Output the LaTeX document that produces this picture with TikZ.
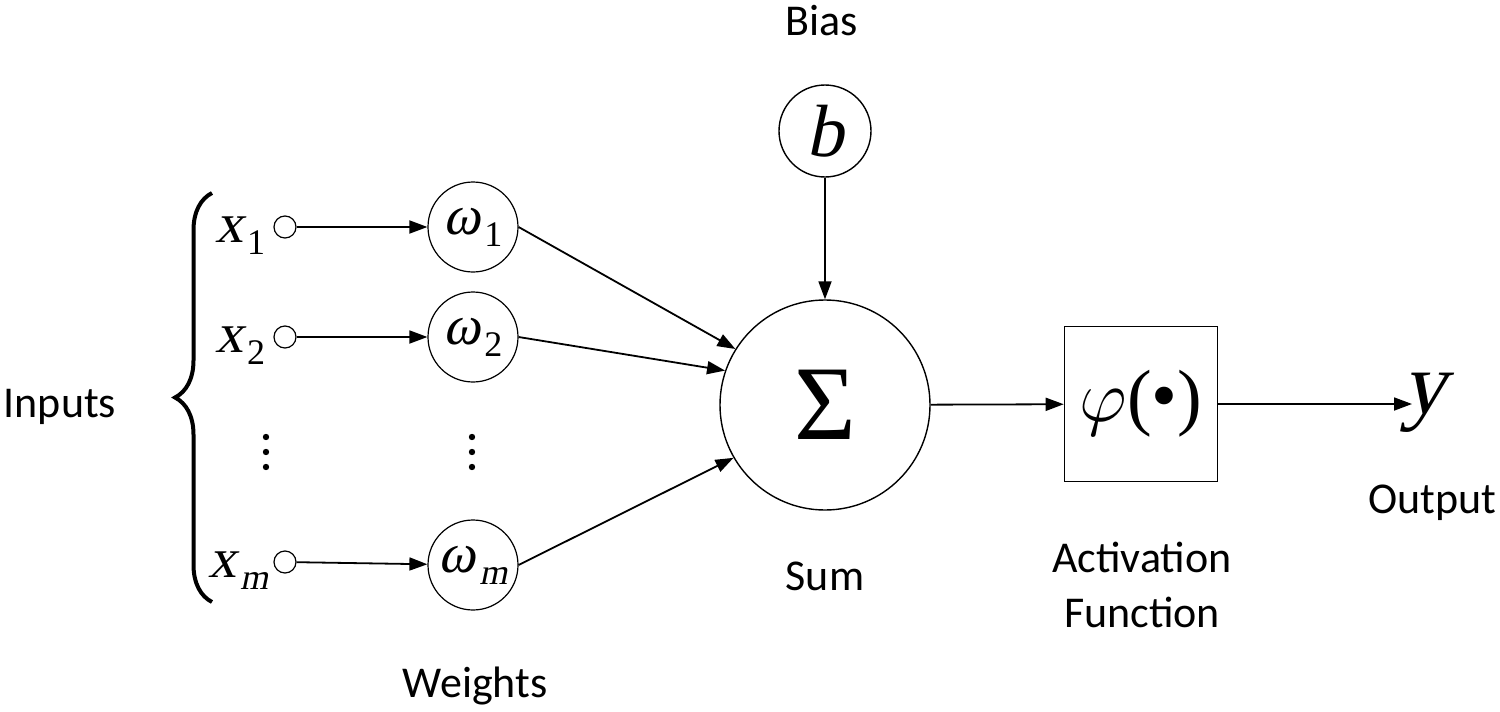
\documentclass[tikz,border=0pt]{standalone}
\usepackage{fix-cm}
\usepackage{fontspec}
\setmainfont{Liberation Serif}
\newfontfamily\slantserif{Liberation Serif}[FakeSlant=0.21]
\newfontfamily\captionfont{Carlito}
\usetikzlibrary{arrows.meta,decorations.pathreplacing}

% slanted symbol with a lowered subscript
\newcommand\symsub[3]{{\fontsize{#1}{#1}\selectfont\slantserif #2}\kern2pt\raisebox{-6pt}{\fontsize{18}{18}\selectfont #3}}

\begin{document}
\begin{tikzpicture}[x=0.5pt,y=-0.5pt,line width=0.9pt,
  conn/.style={-{Triangle[length=9pt,width=6.5pt]}},
  port/.style={circle,draw,line width=0.6pt,minimum size=11pt,inner sep=0pt},
  weight/.style={circle,draw,line width=0.6pt,minimum size=45pt,inner sep=0pt},
  label/.style={font=\captionfont\fontsize{22}{22}\selectfont,inner sep=0pt},
  sym/.style={inner sep=0pt}]
\useasboundingbox (0,0) rectangle (1500,712);

% inputs
\node[port] (x1c) at (285,227) {};
\node[port] (x2c) at (285,337) {};
\node[port] (xmc) at (285,562) {};
\node[sym,anchor=base east] (x1) at (266,242) {\symsub{28}{x}{1}};
\node[sym,anchor=base east] (x2) at (266,352) {\symsub{28}{x}{2}};
\node[sym,anchor=base east] (xm) at (269,577) {\symsub{28}{x}{\slantserif m}};

% weights
\node[weight] (w1) at (473,227) {\symsub{28}{ω}{1}};
\node[weight] (w2) at (473,337) {\symsub{28}{ω}{2}};
\node[weight] (wm) at (473,565) {\symsub{28}{ω}{\slantserif m}};

% vertical ellipses
\foreach \xx in {266,472}
  \foreach \yy in {437,452,467}
    \fill (\xx,\yy) circle (1.6pt);

% brace around the inputs
\draw[line width=2pt,decorate,decoration={brace,amplitude=18.5pt}] (212,602) -- (212,193);

% summing junction and bias
\node[circle,draw,line width=0.7pt,minimum size=105pt,inner sep=0pt] (sum) at (825,405)
  {\fontsize{53}{53}\selectfont Σ};
\node[circle,draw,line width=0.7pt,minimum size=46pt,inner sep=0pt] (b) at (825,131)
  {\fontsize{37}{37}\selectfont\slantserif b};

% activation block
\node[draw,line width=0.8pt,minimum width=76.5pt,minimum height=77.5pt,inner sep=0pt] (act) at (1141,404)
  {\fontsize{37}{37}\selectfont$\varphi$(\raisebox{0.5pt}{•})};

% output symbol
\node[sym,anchor=base west] (y) at (1402,413) {\fontsize{44}{44}\selectfont\slantserif y};
\coordinate (yin) at (1412,404);

% connectors
\draw[conn] (x1c) -- (w1);
\draw[conn] (x2c) -- (w2);
\draw[conn] (xmc) -- (wm);
\draw[conn] (w1.east) -- (sum.148);
\draw[conn] (w2.east) -- (sum.161);
\draw[conn] (wm.east) -- (sum.210);
\draw[conn] (b) -- (sum);
\draw[conn] (sum) -- (act);
\draw[conn] (act) -- (yin);

% captions
\node[label,anchor=base] (bias) at (822,35) {Bias};
\node[label,anchor=base] (inputs) at (60,417) {Inputs};
\node[label,anchor=base] (weights) at (475,697) {Weights};
\node[label,anchor=base] (sumlab) at (825,590) {Sum};
\node[label,anchor=base] (actlab1) at (1142,572) {Activation};
\node[label,anchor=base] (actlab2) at (1142,627) {Function};
\node[label,anchor=base] (outlab) at (1432,513) {Output};
\end{tikzpicture}
\end{document}
